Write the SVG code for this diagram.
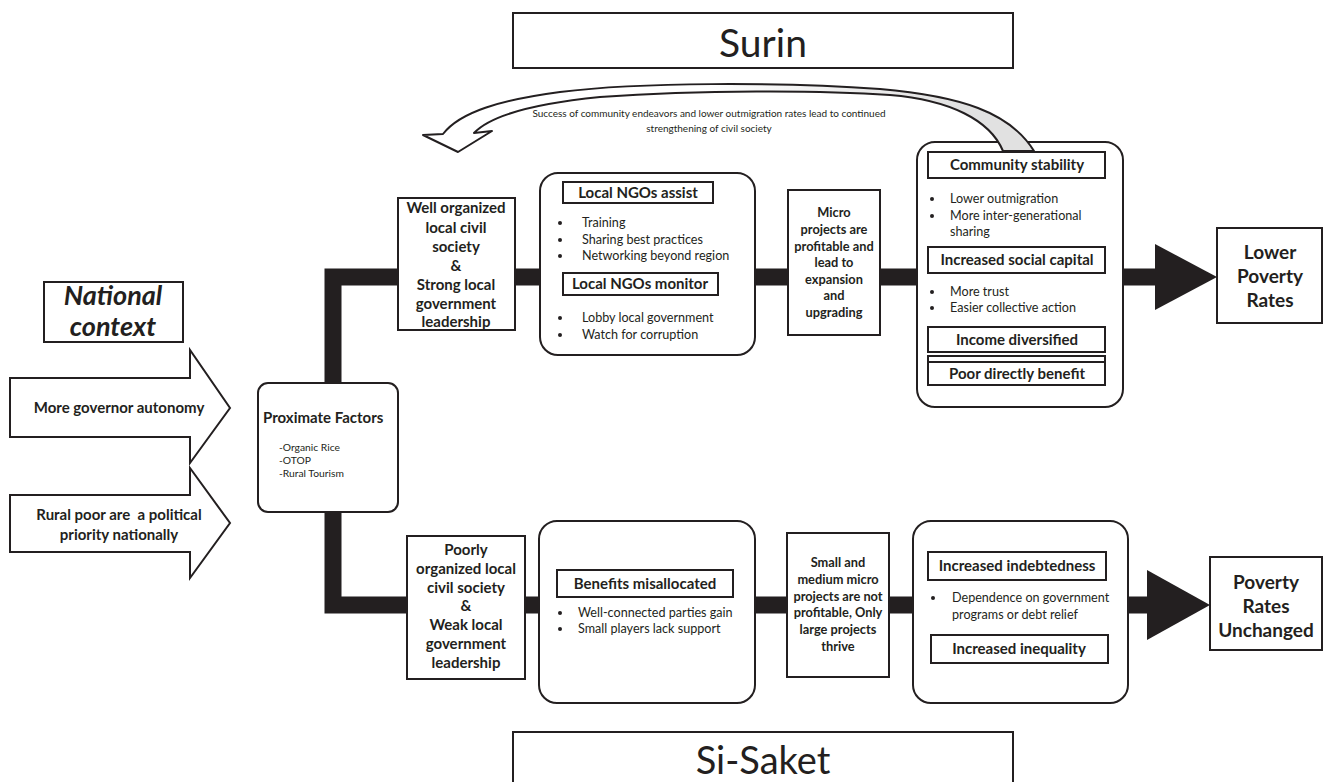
<svg xmlns="http://www.w3.org/2000/svg" width="1327" height="782" viewBox="0 0 1327 782">
<defs>
<style>
.box{fill:#fff;stroke:#231f20;stroke-width:2}
.hdr{fill:#fff;stroke:#231f20;stroke-width:2}
text{font-family:Lato,"Liberation Sans",sans-serif;fill:#231f20}
.b{font-weight:bold}
.c{text-anchor:middle}
.t13{font-size:15px}
.t12{font-size:12.8px}
.h{font-size:15px;font-weight:bold;text-anchor:middle}
.li{font-size:12.6px}
.bul{fill:#231f20}
</style>
<linearGradient id="fb" gradientUnits="userSpaceOnUse" x1="700" y1="0" x2="960" y2="0">
<stop offset="0" stop-color="#ffffff"/>
<stop offset="1" stop-color="#e1e1e1"/>
</linearGradient>
</defs>
<rect width="1327" height="782" fill="#fff"/>

<g id="connectors">
<path d="M1160 277 H333 V605 H1152" fill="none" stroke="#231f20" stroke-width="17" stroke-linejoin="miter"/>
<polygon points="1155,244 1217,277 1155,310" fill="#231f20"/>
<polygon points="1147,570 1210,605 1147,640" fill="#231f20"/>
</g>

<g id="surin">
<rect class="box" x="513" y="13" width="500" height="55"/>
<text class="c" x="763" y="57" font-size="39">Surin</text>
</g>

<g id="sisaket">
<rect class="box" x="513" y="732" width="500" height="60"/>
<text class="c" x="763" y="774" font-size="38">Si-Saket</text>
</g>

<g id="national-context">
<rect class="box" x="44" y="282" width="139" height="60"/>
<text class="c b" x="113" y="305" font-size="27" font-style="italic">National</text>
<text class="c b" x="113" y="336" font-size="27" font-style="italic">context</text>
</g>

<g id="governor-autonomy">
<polygon class="box" points="10,378 190,378 190,350 230,408 190,463 190,437 10,437"/>
<text class="c b" x="119" y="413" font-size="15">More governor autonomy</text>
</g>

<g id="rural-poor">
<polygon class="box" points="10,495 190,495 190,468 230,523 190,578 190,552 10,552"/>
<text class="c b" x="119" y="520" font-size="15" xml:space="preserve">Rural poor are  a political</text>
<text class="c b" x="119" y="540" font-size="15">priority nationally</text>
</g>

<g id="proximate-factors">
<rect class="box" x="258" y="383" width="140" height="129" rx="10"/>
<text class="b" x="263" y="423" font-size="15">Proximate Factors</text>
<text x="279" y="451" font-size="10.3">-Organic Rice</text>
<text x="279" y="464" font-size="10.3">-OTOP</text>
<text x="279" y="477" font-size="10.3">-Rural Tourism</text>
</g>

<g id="well-organized">
<rect class="box" x="398" y="198" width="117" height="132"/>
<text class="c b t13" x="456" y="213">Well organized</text>
<text class="c b t13" x="456" y="233">local civil</text>
<text class="c b t13" x="456" y="252">society</text>
<text class="c b t13" x="456" y="271">&amp;</text>
<text class="c b t13" x="456" y="290">Strong local</text>
<text class="c b t13" x="456" y="309">government</text>
<text class="c b t13" x="456" y="327">leadership</text>
</g>

<g id="local-ngos">
<rect class="box" x="540" y="173" width="215" height="182" rx="18"/>
<rect class="hdr" x="563" y="182" width="150" height="21"/>
<text class="h" x="638" y="198">Local NGOs assist</text>
<circle class="bul" cx="560" cy="223" r="2"/>
<text class="li" x="582" y="227">Training</text>
<circle class="bul" cx="560" cy="240" r="2"/>
<text class="li" x="582" y="244">Sharing best practices</text>
<circle class="bul" cx="560" cy="256" r="2"/>
<text class="li" x="582" y="260">Networking beyond region</text>
<rect class="hdr" x="563" y="273" width="155" height="22"/>
<text class="h" x="640" y="289">Local NGOs monitor</text>
<circle class="bul" cx="560" cy="318" r="2"/>
<text class="li" x="582" y="322">Lobby local government</text>
<circle class="bul" cx="560" cy="335" r="2"/>
<text class="li" x="582" y="339">Watch for corruption</text>
</g>

<g id="micro-projects">
<rect class="box" x="788" y="190" width="92" height="145"/>
<text class="c b t12" x="834" y="217">Micro</text>
<text class="c b t12" x="834" y="234">projects are</text>
<text class="c b t12" x="834" y="251">profitable and</text>
<text class="c b t12" x="834" y="267">lead to</text>
<text class="c b t12" x="834" y="284">expansion</text>
<text class="c b t12" x="834" y="300">and</text>
<text class="c b t12" x="834" y="317">upgrading</text>
</g>

<g id="community-stability">
<rect class="box" x="917" y="142" width="206" height="265" rx="18"/>
<rect class="hdr" x="928" y="152" width="177" height="26"/>
<text class="h" x="1017" y="170">Community stability</text>
<circle class="bul" cx="932" cy="199" r="2"/>
<text class="li" x="950" y="203">Lower outmigration</text>
<circle class="bul" cx="932" cy="216" r="2"/>
<text class="li" x="950" y="220">More inter-generational</text>
<text class="li" x="950" y="236">sharing</text>
<rect class="hdr" x="928" y="247" width="177" height="26"/>
<text class="h" x="1017" y="265">Increased social capital</text>
<circle class="bul" cx="932" cy="292" r="2"/>
<text class="li" x="950" y="296">More trust</text>
<circle class="bul" cx="932" cy="308" r="2"/>
<text class="li" x="950" y="312">Easier collective action</text>
<rect class="hdr" x="928" y="327" width="177" height="25"/>
<text class="h" x="1017" y="345">Income diversified</text>
<rect class="hdr" x="928" y="356" width="177" height="29"/>
<line x1="928" y1="362" x2="1105" y2="362" stroke="#231f20" stroke-width="2"/>
<text class="h" x="1017" y="379">Poor directly benefit</text>
</g>

<g id="lower-poverty">
<rect class="box" x="1217" y="228" width="105" height="95"/>
<text class="c b" x="1270" y="259" font-size="19">Lower</text>
<text class="c b" x="1270" y="283" font-size="19">Poverty</text>
<text class="c b" x="1270" y="307" font-size="19">Rates</text>
</g>

<g id="poorly-organized">
<rect class="box" x="407" y="536" width="118" height="143"/>
<text class="c b t13" x="466" y="555">Poorly</text>
<text class="c b t13" x="466" y="574">organized local</text>
<text class="c b t13" x="466" y="593">civil society</text>
<text class="c b t13" x="466" y="611">&amp;</text>
<text class="c b t13" x="466" y="630">Weak local</text>
<text class="c b t13" x="466" y="649">government</text>
<text class="c b t13" x="466" y="668">leadership</text>
</g>

<g id="benefits-misallocated">
<rect class="box" x="539" y="521" width="216" height="182" rx="18"/>
<rect class="hdr" x="557" y="570" width="176" height="27"/>
<text class="h" x="645" y="589">Benefits misallocated</text>
<circle class="bul" cx="560" cy="613" r="2"/>
<text class="li" x="578" y="617">Well-connected parties gain</text>
<circle class="bul" cx="560" cy="629" r="2"/>
<text class="li" x="578" y="633">Small players lack support</text>
</g>

<g id="small-medium">
<rect class="box" x="787" y="533" width="102" height="144"/>
<text class="c b t12" x="838" y="567">Small and</text>
<text class="c b t12" x="838" y="584">medium micro</text>
<text class="c b t12" x="838" y="601">projects are not</text>
<text class="c b t12" x="838" y="617">profitable, Only</text>
<text class="c b t12" x="838" y="634">large projects</text>
<text class="c b t12" x="838" y="651">thrive</text>
</g>

<g id="indebtedness">
<rect class="box" x="913" y="521" width="215" height="182" rx="18"/>
<rect class="hdr" x="928" y="552" width="178" height="28"/>
<text class="h" x="1017" y="571">Increased indebtedness</text>
<circle class="bul" cx="933" cy="598" r="2"/>
<text class="li" x="952" y="602">Dependence on government</text>
<text class="li" x="952" y="619">programs or debt relief</text>
<rect class="hdr" x="931" y="635" width="177" height="28"/>
<text class="h" x="1019" y="654">Increased inequality</text>
</g>

<g id="poverty-unchanged">
<rect class="box" x="1210" y="557" width="112" height="93"/>
<text class="c b" x="1266" y="589" font-size="19">Poverty</text>
<text class="c b" x="1266" y="613" font-size="19">Rates</text>
<text class="c b" x="1266" y="637" font-size="19">Unchanged</text>
</g>

<g id="feedback-connector">
<path d="M1034 151 C1010 112 960 96 880 89 C780 82 640 82 560 92 C500 100 460 112 443 134 L423 135 L458 152 L492 131 L474 133 C490 116 530 104 600 97 C700 90 820 90 890 95 C950 100 990 120 1003 151 Z" fill="url(#fb)" stroke="#231f20" stroke-width="2" stroke-linejoin="round"/>
<text class="c" x="709" y="117" font-size="10">Success of community endeavors and lower outmigration rates lead to continued</text>
<text class="c" x="709" y="132" font-size="10">strengthening of civil society</text>
</g>
</svg>
